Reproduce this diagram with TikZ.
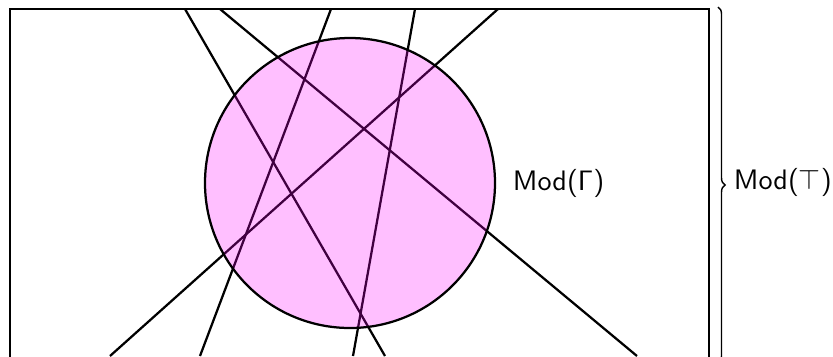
\documentclass[tikz,border=0pt]{standalone}
\usetikzlibrary{decorations.pathreplacing}
\definecolor{modpink}{RGB}{255,0,255}
\begin{document}
\begin{tikzpicture}[x=0.355pt,y=-0.355pt,
  ln/.style={line width=0.8pt, black},
  lbl/.style={anchor=west, font=\sffamily}]
\useasboundingbox (0,0) rectangle (833,356);
\clip (0,0) rectangle (833,356);
\draw[line width=1pt] (10,9) rectangle (709,372);
% line end points
\coordinate (t1) at (185,9);  \coordinate (b1) at (385,356);
\coordinate (t2) at (220,9);  \coordinate (b2) at (637,356);
\coordinate (t3) at (331,9);  \coordinate (b3) at (200,356);
\coordinate (t4) at (415,9);  \coordinate (b4) at (353,356);
\coordinate (t5) at (498,9);  \coordinate (b5) at (110,356);
\draw[ln] (t1) -- (b1);
\draw[ln] (t2) -- (b2);
\draw[ln] (t3) -- (b3);
\draw[ln] (t4) -- (b4);
\draw[ln] (t5) -- (b5);
\node[circle, draw, ln, fill=modpink, fill opacity=0.25, inner sep=0pt,
      minimum size=102.95pt] (gamma) at (350,183) {};
\node[lbl] (lg) at (503,183) {Mod($\mathsf{\Gamma}$)};
\coordinate (bt) at (718,7);
\coordinate (bb) at (718,363);
\draw[line width=0.5pt, decorate, decoration={brace, amplitude=2.5pt}] (bt) -- (bb);
\node[lbl] (lt) at (724,182) {Mod($\top$)};
\end{tikzpicture}
\end{document}
